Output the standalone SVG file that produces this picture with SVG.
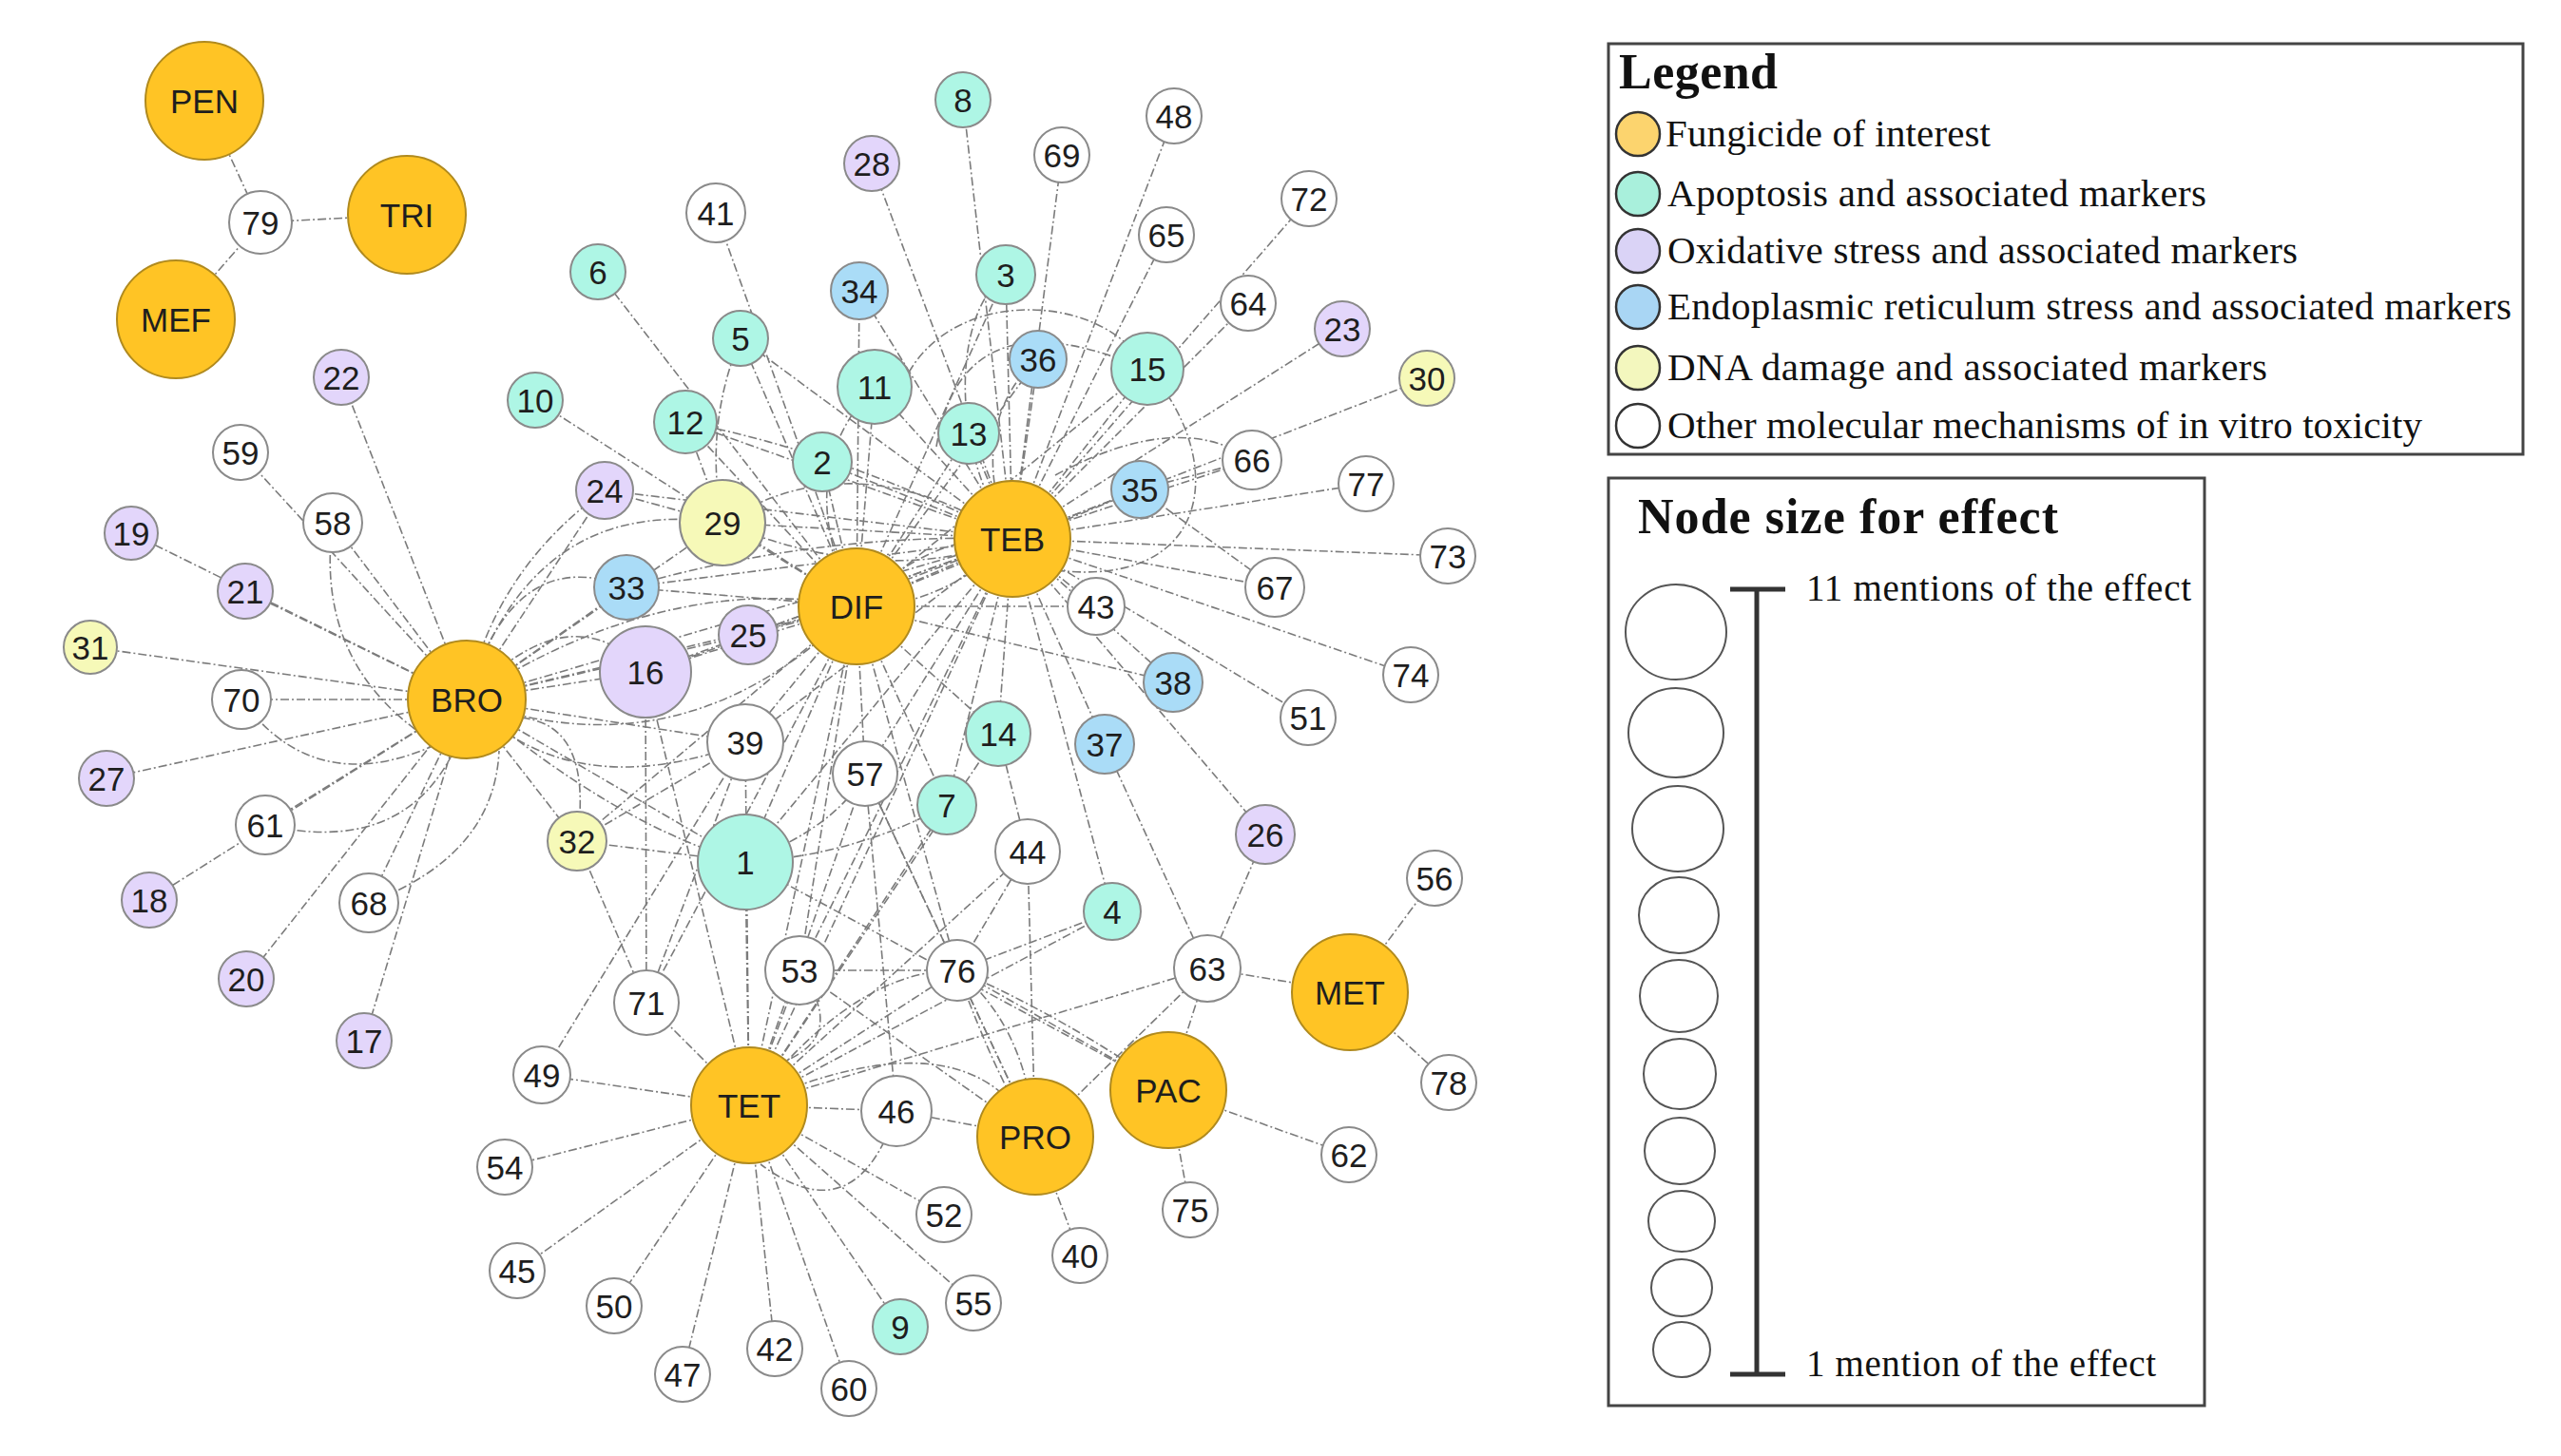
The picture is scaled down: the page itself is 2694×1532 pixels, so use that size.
<svg xmlns="http://www.w3.org/2000/svg" width="2694" height="1532" viewBox="0 0 2694 1532">
<style>
.e{fill:none;stroke:#7b7b7b;stroke-width:1.6;stroke-dasharray:9 3 2 3}
.n circle{stroke:#8a8a8a;stroke-width:2}
.f circle{fill:#FFC425;stroke:#B08A1E;stroke-width:2}
.ap circle{fill:#AEF6E5}
.ox circle{fill:#E3D6FB}
.er circle{fill:#AADCF7}
.dn circle{fill:#F6F9B8}
.ot circle{fill:#FFFFFF}
.n text{font-family:"Liberation Sans",Arial,sans-serif;font-size:35px;fill:#1e1e1e;text-anchor:middle}
.lt{font-family:"Liberation Serif","Times New Roman",serif;fill:#111}
.lc{stroke:#333;stroke-width:2.5}
.sc{fill:none;stroke:#555;stroke-width:2}
.box{fill:#fff;stroke:#444;stroke-width:3}
</style>
<rect width="2694" height="1532" fill="#fff"/>
<g id="connectors">
<path class="e" d="M215 106L274 234"/><path class="e" d="M428 226L274 234"/><path class="e" d="M185 336L274 234"/>
<path class="e" d="M491 736L359 397"/><path class="e" d="M491 736L253 476"/><path class="e" d="M491 736L350 550"/><path class="e" d="M491 736L138 561"/><path class="e" d="M491 736L258 622"/><path class="e" d="M491 736L95 681"/><path class="e" d="M491 736L254 736"/><path class="e" d="M491 736L112 819"/><path class="e" d="M491 736L279 868"/><path class="e" d="M491 736L157 947"/><path class="e" d="M491 736L259 1030"/><path class="e" d="M491 736L388 950"/><path class="e" d="M491 736L383 1095"/><path class="e" d="M491 736L607 885"/><path class="e" d="M491 736L679 707"/><path class="e" d="M491 736L659 618"/><path class="e" d="M491 736L636 516"/><path class="e" d="M491 736L760 550"/><path class="e" d="M491 736L784 781"/><path class="e" d="M491 736L784 907"/><path class="e" d="M491 736L787 668"/><path class="e" d="M491 736L901 638"/><path class="e" d="M491 736L1065 567"/>
<path class="e" d="M901 638L753 224"/><path class="e" d="M901 638L629 286"/><path class="e" d="M901 638L779 356"/><path class="e" d="M901 638L563 421"/><path class="e" d="M901 638L721 444"/><path class="e" d="M901 638L865 486"/><path class="e" d="M901 638L920 407"/><path class="e" d="M901 638L1019 456"/><path class="e" d="M901 638L904 306"/><path class="e" d="M901 638L1058 289"/><path class="e" d="M901 638L1092 378"/><path class="e" d="M901 638L1207 388"/><path class="e" d="M901 638L1199 515"/><path class="e" d="M901 638L760 550"/><path class="e" d="M901 638L659 618"/><path class="e" d="M901 638L679 707"/><path class="e" d="M901 638L787 668"/><path class="e" d="M901 638L784 781"/><path class="e" d="M901 638L784 907"/><path class="e" d="M901 638L910 814"/><path class="e" d="M901 638L1050 772"/><path class="e" d="M901 638L996 847"/><path class="e" d="M901 638L1007 1021"/><path class="e" d="M901 638L841 1021"/><path class="e" d="M901 638L1153 638"/><path class="e" d="M901 638L1234 718"/><path class="e" d="M901 638L680 1055"/><path class="e" d="M901 638L607 885"/><path class="e" d="M901 638L1065 567"/><path class="e" d="M901 638L788 1163"/>
<path class="e" d="M1065 567L1013 105"/><path class="e" d="M1065 567L1235 122"/><path class="e" d="M1065 567L1117 163"/><path class="e" d="M1065 567L1227 247"/><path class="e" d="M1065 567L1377 209"/><path class="e" d="M1065 567L1313 319"/><path class="e" d="M1065 567L1412 346"/><path class="e" d="M1065 567L1501 398"/><path class="e" d="M1065 567L1317 484"/><path class="e" d="M1065 567L1437 509"/><path class="e" d="M1065 567L1523 585"/><path class="e" d="M1065 567L1341 618"/><path class="e" d="M1065 567L1484 710"/><path class="e" d="M1065 567L1376 755"/><path class="e" d="M1065 567L1234 718"/><path class="e" d="M1065 567L1162 783"/><path class="e" d="M1065 567L1331 878"/><path class="e" d="M1065 567L1170 959"/><path class="e" d="M1065 567L1050 772"/><path class="e" d="M1065 567L1199 515"/><path class="e" d="M1065 567L1207 388"/><path class="e" d="M1065 567L1092 378"/><path class="e" d="M1065 567L1058 289"/><path class="e" d="M1065 567L1019 456"/><path class="e" d="M1065 567L920 407"/><path class="e" d="M1065 567L904 306"/><path class="e" d="M1065 567L917 172"/><path class="e" d="M1065 567L865 486"/><path class="e" d="M1065 567L721 444"/><path class="e" d="M1065 567L760 550"/><path class="e" d="M1065 567L636 516"/><path class="e" d="M1065 567L784 907"/><path class="e" d="M1065 567L784 781"/><path class="e" d="M1065 567L910 814"/><path class="e" d="M1065 567L679 707"/><path class="e" d="M1065 567L787 668"/><path class="e" d="M1065 567L659 618"/><path class="e" d="M1065 567L788 1163"/><path class="e" d="M1065 567L996 847"/><path class="e" d="M1065 567L841 1021"/><path class="e" d="M1065 567L779 356"/><path class="e" d="M1065 567L1153 638"/>
<path class="e" d="M788 1163L570 1131"/><path class="e" d="M788 1163L531 1228"/><path class="e" d="M788 1163L544 1337"/><path class="e" d="M788 1163L646 1374"/><path class="e" d="M788 1163L718 1446"/><path class="e" d="M788 1163L815 1419"/><path class="e" d="M788 1163L893 1461"/><path class="e" d="M788 1163L947 1396"/><path class="e" d="M788 1163L1024 1371"/><path class="e" d="M788 1163L993 1278"/><path class="e" d="M788 1163L943 1169"/><path class="e" d="M788 1163L841 1021"/><path class="e" d="M788 1163L784 907"/><path class="e" d="M788 1163L680 1055"/><path class="e" d="M788 1163L1007 1021"/><path class="e" d="M788 1163L910 814"/><path class="e" d="M788 1163L996 847"/><path class="e" d="M788 1163L1081 896"/><path class="e" d="M788 1163L1270 1019"/><path class="e" d="M788 1163L1050 772"/><path class="e" d="M788 1163L784 781"/><path class="e" d="M788 1163L679 707"/><path class="e" d="M788 1163L1170 959"/>
<path class="e" d="M1089 1196L943 1169"/><path class="e" d="M1089 1196L1136 1321"/><path class="e" d="M1089 1196L1007 1021"/><path class="e" d="M1089 1196L1081 896"/><path class="e" d="M1089 1196L841 1021"/><path class="e" d="M1089 1196L1270 1019"/><path class="e" d="M1089 1196L910 814"/>
<path class="e" d="M1229 1147L1419 1215"/><path class="e" d="M1229 1147L1252 1273"/><path class="e" d="M1229 1147L1270 1019"/><path class="e" d="M1229 1147L1007 1021"/><path class="e" d="M1229 1147L784 907"/>
<path class="e" d="M1420 1044L1509 924"/><path class="e" d="M1420 1044L1524 1139"/><path class="e" d="M1420 1044L1270 1019"/>
<path class="e" d="M1270 1019L1331 878"/><path class="e" d="M1270 1019L1162 783"/><path class="e" d="M1170 959L1007 1021"/><path class="e" d="M607 885L680 1055"/><path class="e" d="M607 885L784 907"/><path class="e" d="M607 885L784 781"/><path class="e" d="M910 814L943 1169"/><path class="e" d="M910 814L1007 1021"/><path class="e" d="M841 1021L1007 1021"/><path class="e" d="M570 1131L784 781"/><path class="e" d="M1081 896L1007 1021"/><path class="e" d="M1050 772L1081 896"/><path class="e" d="M1199 515L1341 618"/><path class="e" d="M1317 484L1199 515"/><path class="e" d="M680 1055L784 781"/><path class="e" d="M680 1055L679 707"/><path class="e" d="M721 444L760 550"/><path class="e" d="M636 516L760 550"/>
<path class="e" d="M350 550Q330 700 455 780"/><path class="e" d="M254 736Q330 840 455 785"/><path class="e" d="M279 868Q420 900 475 795"/><path class="e" d="M388 950Q520 900 525 790"/><path class="e" d="M607 885Q625 760 545 755"/>
<path class="e" d="M491 736Q540 570 659 618"/><path class="e" d="M491 736Q560 520 760 550"/><path class="e" d="M491 736Q600 620 679 707"/><path class="e" d="M491 736Q600 850 784 781"/><path class="e" d="M491 736Q650 870 784 907"/><path class="e" d="M491 736Q520 600 636 516"/><path class="e" d="M491 736Q700 600 901 638"/><path class="e" d="M491 736Q720 820 901 638"/>
<path class="e" d="M779 356Q740 450 760 550"/><path class="e" d="M760 550Q900 460 1065 567"/><path class="e" d="M760 550Q930 620 1065 567"/><path class="e" d="M721 444Q900 480 1065 567"/><path class="e" d="M659 618Q860 560 1065 567"/><path class="e" d="M679 707Q880 640 1065 567"/><path class="e" d="M901 638Q830 500 920 407"/><path class="e" d="M901 638Q980 560 1065 567"/><path class="e" d="M901 638Q990 640 1065 567"/>
<path class="e" d="M985 470Q1010 320 1170 375"/><path class="e" d="M940 440C960 300 1150 300 1200 380"/><path class="e" d="M1207 388C1290 480 1280 620 1110 600"/><path class="e" d="M1110 500Q1240 430 1317 484"/><path class="e" d="M1058 289C1000 330 1000 480 1065 567"/><path class="e" d="M1092 378C1040 420 1030 500 1065 567"/>
<path class="e" d="M943 1169Q900 1300 800 1225"/><path class="e" d="M788 1163Q900 1020 1007 1021"/><path class="e" d="M1007 1021Q1080 1080 1089 1196"/><path class="e" d="M1007 1021Q1050 1140 1089 1196"/><path class="e" d="M788 1163Q1020 1060 1089 1196"/><path class="e" d="M841 1021Q900 1100 800 1125"/><path class="e" d="M784 907Q880 870 910 814"/><path class="e" d="M784 907Q900 900 996 847"/><path class="e" d="M1007 1021Q1120 1070 1229 1147"/>
</g>
<g id="nodes">
<g id="PEN" class="n f"><circle cx="215" cy="106" r="62"/><text x="215" y="119">PEN</text></g>
<g id="TRI" class="n f"><circle cx="428" cy="226" r="62"/><text x="428" y="239">TRI</text></g>
<g id="MEF" class="n f"><circle cx="185" cy="336" r="62"/><text x="185" y="349">MEF</text></g>
<g id="BRO" class="n f"><circle cx="491" cy="736" r="62"/><text x="491" y="749">BRO</text></g>
<g id="DIF" class="n f"><circle cx="901" cy="638" r="61"/><text x="901" y="651">DIF</text></g>
<g id="TEB" class="n f"><circle cx="1065" cy="567" r="61"/><text x="1065" y="580">TEB</text></g>
<g id="TET" class="n f"><circle cx="788" cy="1163" r="61"/><text x="788" y="1176">TET</text></g>
<g id="PRO" class="n f"><circle cx="1089" cy="1196" r="61"/><text x="1089" y="1209">PRO</text></g>
<g id="PAC" class="n f"><circle cx="1229" cy="1147" r="61"/><text x="1229" y="1160">PAC</text></g>
<g id="MET" class="n f"><circle cx="1420" cy="1044" r="61"/><text x="1420" y="1057">MET</text></g>
<g id="n1" class="n ap"><circle cx="784" cy="907" r="50"/><text x="784" y="920">1</text></g>
<g id="n2" class="n ap"><circle cx="865" cy="486" r="31"/><text x="865" y="499">2</text></g>
<g id="n3" class="n ap"><circle cx="1058" cy="289" r="31"/><text x="1058" y="302">3</text></g>
<g id="n4" class="n ap"><circle cx="1170" cy="959" r="30"/><text x="1170" y="972">4</text></g>
<g id="n5" class="n ap"><circle cx="779" cy="356" r="29"/><text x="779" y="369">5</text></g>
<g id="n6" class="n ap"><circle cx="629" cy="286" r="29"/><text x="629" y="299">6</text></g>
<g id="n7" class="n ap"><circle cx="996" cy="847" r="31"/><text x="996" y="860">7</text></g>
<g id="n8" class="n ap"><circle cx="1013" cy="105" r="29"/><text x="1013" y="118">8</text></g>
<g id="n9" class="n ap"><circle cx="947" cy="1396" r="29"/><text x="947" y="1409">9</text></g>
<g id="n10" class="n ap"><circle cx="563" cy="421" r="29"/><text x="563" y="434">10</text></g>
<g id="n11" class="n ap"><circle cx="920" cy="407" r="39"/><text x="920" y="420">11</text></g>
<g id="n12" class="n ap"><circle cx="721" cy="444" r="33"/><text x="721" y="457">12</text></g>
<g id="n13" class="n ap"><circle cx="1019" cy="456" r="32"/><text x="1019" y="469">13</text></g>
<g id="n14" class="n ap"><circle cx="1050" cy="772" r="34"/><text x="1050" y="785">14</text></g>
<g id="n15" class="n ap"><circle cx="1207" cy="388" r="38"/><text x="1207" y="401">15</text></g>
<g id="n16" class="n ox"><circle cx="679" cy="707" r="48"/><text x="679" y="720">16</text></g>
<g id="n17" class="n ox"><circle cx="383" cy="1095" r="29"/><text x="383" y="1108">17</text></g>
<g id="n18" class="n ox"><circle cx="157" cy="947" r="29"/><text x="157" y="960">18</text></g>
<g id="n19" class="n ox"><circle cx="138" cy="561" r="28"/><text x="138" y="574">19</text></g>
<g id="n20" class="n ox"><circle cx="259" cy="1030" r="29"/><text x="259" y="1043">20</text></g>
<g id="n21" class="n ox"><circle cx="258" cy="622" r="29"/><text x="258" y="635">21</text></g>
<g id="n22" class="n ox"><circle cx="359" cy="397" r="29"/><text x="359" y="410">22</text></g>
<g id="n23" class="n ox"><circle cx="1412" cy="346" r="29"/><text x="1412" y="359">23</text></g>
<g id="n24" class="n ox"><circle cx="636" cy="516" r="30"/><text x="636" y="529">24</text></g>
<g id="n25" class="n ox"><circle cx="787" cy="668" r="31"/><text x="787" y="681">25</text></g>
<g id="n26" class="n ox"><circle cx="1331" cy="878" r="31"/><text x="1331" y="891">26</text></g>
<g id="n27" class="n ox"><circle cx="112" cy="819" r="29"/><text x="112" y="832">27</text></g>
<g id="n28" class="n ox"><circle cx="917" cy="172" r="29"/><text x="917" y="185">28</text></g>
<g id="n29" class="n dn"><circle cx="760" cy="550" r="45"/><text x="760" y="563">29</text></g>
<g id="n30" class="n dn"><circle cx="1501" cy="398" r="29"/><text x="1501" y="411">30</text></g>
<g id="n31" class="n dn"><circle cx="95" cy="681" r="28"/><text x="95" y="694">31</text></g>
<g id="n32" class="n dn"><circle cx="607" cy="885" r="31"/><text x="607" y="898">32</text></g>
<g id="n33" class="n er"><circle cx="659" cy="618" r="34"/><text x="659" y="631">33</text></g>
<g id="n34" class="n er"><circle cx="904" cy="306" r="30"/><text x="904" y="319">34</text></g>
<g id="n35" class="n er"><circle cx="1199" cy="515" r="30"/><text x="1199" y="528">35</text></g>
<g id="n36" class="n er"><circle cx="1092" cy="378" r="30"/><text x="1092" y="391">36</text></g>
<g id="n37" class="n er"><circle cx="1162" cy="783" r="31"/><text x="1162" y="796">37</text></g>
<g id="n38" class="n er"><circle cx="1234" cy="718" r="31"/><text x="1234" y="731">38</text></g>
<g id="n39" class="n ot"><circle cx="784" cy="781" r="40"/><text x="784" y="794">39</text></g>
<g id="n40" class="n ot"><circle cx="1136" cy="1321" r="29"/><text x="1136" y="1334">40</text></g>
<g id="n41" class="n ot"><circle cx="753" cy="224" r="31"/><text x="753" y="237">41</text></g>
<g id="n42" class="n ot"><circle cx="815" cy="1419" r="29"/><text x="815" y="1432">42</text></g>
<g id="n43" class="n ot"><circle cx="1153" cy="638" r="30"/><text x="1153" y="651">43</text></g>
<g id="n44" class="n ot"><circle cx="1081" cy="896" r="34"/><text x="1081" y="909">44</text></g>
<g id="n45" class="n ot"><circle cx="544" cy="1337" r="29"/><text x="544" y="1350">45</text></g>
<g id="n46" class="n ot"><circle cx="943" cy="1169" r="37"/><text x="943" y="1182">46</text></g>
<g id="n47" class="n ot"><circle cx="718" cy="1446" r="29"/><text x="718" y="1459">47</text></g>
<g id="n48" class="n ot"><circle cx="1235" cy="122" r="29"/><text x="1235" y="135">48</text></g>
<g id="n49" class="n ot"><circle cx="570" cy="1131" r="30"/><text x="570" y="1144">49</text></g>
<g id="n50" class="n ot"><circle cx="646" cy="1374" r="29"/><text x="646" y="1387">50</text></g>
<g id="n51" class="n ot"><circle cx="1376" cy="755" r="29"/><text x="1376" y="768">51</text></g>
<g id="n52" class="n ot"><circle cx="993" cy="1278" r="29"/><text x="993" y="1291">52</text></g>
<g id="n53" class="n ot"><circle cx="841" cy="1021" r="36"/><text x="841" y="1034">53</text></g>
<g id="n54" class="n ot"><circle cx="531" cy="1228" r="29"/><text x="531" y="1241">54</text></g>
<g id="n55" class="n ot"><circle cx="1024" cy="1371" r="29"/><text x="1024" y="1384">55</text></g>
<g id="n56" class="n ot"><circle cx="1509" cy="924" r="29"/><text x="1509" y="937">56</text></g>
<g id="n57" class="n ot"><circle cx="910" cy="814" r="34"/><text x="910" y="827">57</text></g>
<g id="n58" class="n ot"><circle cx="350" cy="550" r="31"/><text x="350" y="563">58</text></g>
<g id="n59" class="n ot"><circle cx="253" cy="476" r="29"/><text x="253" y="489">59</text></g>
<g id="n60" class="n ot"><circle cx="893" cy="1461" r="29"/><text x="893" y="1474">60</text></g>
<g id="n61" class="n ot"><circle cx="279" cy="868" r="31"/><text x="279" y="881">61</text></g>
<g id="n62" class="n ot"><circle cx="1419" cy="1215" r="29"/><text x="1419" y="1228">62</text></g>
<g id="n63" class="n ot"><circle cx="1270" cy="1019" r="35"/><text x="1270" y="1032">63</text></g>
<g id="n64" class="n ot"><circle cx="1313" cy="319" r="29"/><text x="1313" y="332">64</text></g>
<g id="n65" class="n ot"><circle cx="1227" cy="247" r="29"/><text x="1227" y="260">65</text></g>
<g id="n66" class="n ot"><circle cx="1317" cy="484" r="31"/><text x="1317" y="497">66</text></g>
<g id="n67" class="n ot"><circle cx="1341" cy="618" r="31"/><text x="1341" y="631">67</text></g>
<g id="n68" class="n ot"><circle cx="388" cy="950" r="31"/><text x="388" y="963">68</text></g>
<g id="n69" class="n ot"><circle cx="1117" cy="163" r="29"/><text x="1117" y="176">69</text></g>
<g id="n70" class="n ot"><circle cx="254" cy="736" r="31"/><text x="254" y="749">70</text></g>
<g id="n71" class="n ot"><circle cx="680" cy="1055" r="34"/><text x="680" y="1068">71</text></g>
<g id="n72" class="n ot"><circle cx="1377" cy="209" r="29"/><text x="1377" y="222">72</text></g>
<g id="n73" class="n ot"><circle cx="1523" cy="585" r="29"/><text x="1523" y="598">73</text></g>
<g id="n74" class="n ot"><circle cx="1484" cy="710" r="29"/><text x="1484" y="723">74</text></g>
<g id="n75" class="n ot"><circle cx="1252" cy="1273" r="29"/><text x="1252" y="1286">75</text></g>
<g id="n76" class="n ot"><circle cx="1007" cy="1021" r="32"/><text x="1007" y="1034">76</text></g>
<g id="n77" class="n ot"><circle cx="1437" cy="509" r="29"/><text x="1437" y="522">77</text></g>
<g id="n78" class="n ot"><circle cx="1524" cy="1139" r="29"/><text x="1524" y="1152">78</text></g>
<g id="n79" class="n ot"><circle cx="274" cy="234" r="33"/><text x="274" y="247">79</text></g>
</g>
<g id="legend">
<rect class="box" x="1692" y="46" width="962" height="432"/>
<text class="lt" x="1703" y="93" font-size="52" font-weight="bold" textLength="167">Legend</text>
<circle class="lc" cx="1723" cy="141" r="23" fill="#FCD46E"/>
<circle class="lc" cx="1723" cy="204" r="23" fill="#A9F0DC"/>
<circle class="lc" cx="1723" cy="264" r="23" fill="#DAD3F6"/>
<circle class="lc" cx="1723" cy="323" r="23" fill="#A9D6F4"/>
<circle class="lc" cx="1723" cy="387" r="23" fill="#F3F7BE"/>
<circle class="lc" cx="1723" cy="448" r="23" fill="#FFFFFF"/>
<text class="lt" x="1752" y="154" font-size="41" textLength="342">Fungicide of interest</text>
<text class="lt" x="1754" y="217" font-size="41" textLength="567">Apoptosis and associated markers</text>
<text class="lt" x="1754" y="277" font-size="41" textLength="663">Oxidative stress and associated markers</text>
<text class="lt" x="1754" y="336" font-size="41" textLength="888">Endoplasmic reticulum stress and associated markers</text>
<text class="lt" x="1754" y="400" font-size="41" textLength="631">DNA damage and associated markers</text>
<text class="lt" x="1754" y="461" font-size="41" textLength="794">Other molecular mechanisms of in vitro toxicity</text>
</g>
<g id="size-legend">
<rect class="box" x="1692" y="503" width="627" height="976"/>
<text class="lt" x="1723" y="561" font-size="52" font-weight="bold" textLength="442">Node size for effect</text>
<ellipse class="sc" cx="1763" cy="665" rx="53" ry="50"/>
<ellipse class="sc" cx="1763" cy="771" rx="50" ry="47"/>
<ellipse class="sc" cx="1765" cy="872" rx="48" ry="45"/>
<ellipse class="sc" cx="1766" cy="963" rx="42" ry="40"/>
<ellipse class="sc" cx="1766" cy="1048" rx="41" ry="38"/>
<ellipse class="sc" cx="1767" cy="1130" rx="38" ry="37"/>
<ellipse class="sc" cx="1767" cy="1211" rx="37" ry="35"/>
<ellipse class="sc" cx="1769" cy="1285" rx="35" ry="32"/>
<ellipse class="sc" cx="1769" cy="1355" rx="32" ry="30"/>
<ellipse class="sc" cx="1769" cy="1420" rx="30" ry="29"/>
<path d="M1848 620V1446M1820 620H1878M1820 1446H1878" fill="none" stroke="#333" stroke-width="5"/>
<text class="lt" x="1900" y="632" font-size="39" textLength="405">11 mentions of the effect</text>
<text class="lt" x="1900" y="1448" font-size="39" textLength="368">1 mention of the effect</text>
</g>
</svg>
